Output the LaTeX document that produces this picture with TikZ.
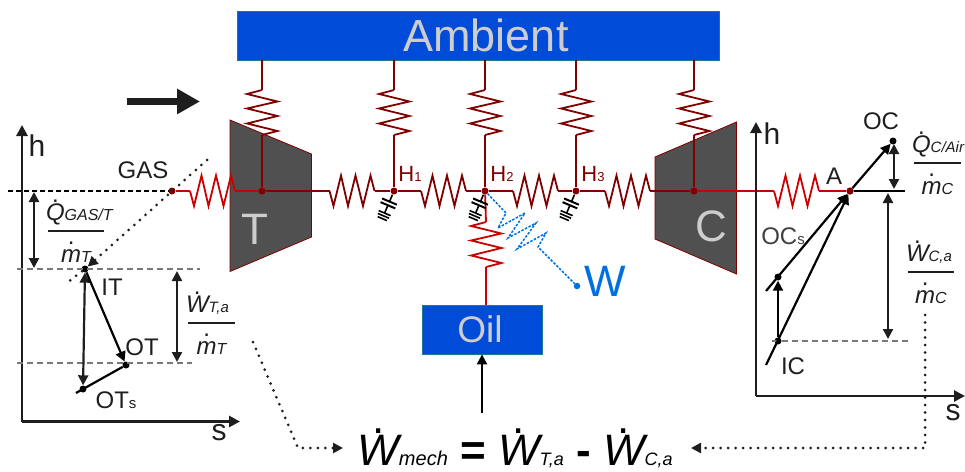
\documentclass[tikz,border=0pt]{standalone}
\usepackage{amsmath}
\usepackage{fontspec}
\setmainfont{Liberation Sans}
\usepackage{tikz}
\usetikzlibrary{arrows.meta,positioning,calc}
\definecolor{wiredark}{RGB}{128,0,0}
\definecolor{wirehot}{RGB}{204,0,0}
\definecolor{boxblue}{RGB}{0,76,217}
\definecolor{boxedge}{RGB}{30,120,140}
\definecolor{softlabel}{RGB}{205,205,205}
\definecolor{machine}{RGB}{80,80,80}
\definecolor{leakblue}{RGB}{0,112,224}
\definecolor{inkblack}{RGB}{30,30,30}
\definecolor{guide}{RGB}{120,120,120}
\newcommand{\fs}[2]{{\fontsize{#1}{#1}\selectfont #2}}
\newcommand{\fdot}[1]{{\ooalign{#1\cr\hidewidth\raisebox{.72em}{\upshape.}\hidewidth\cr}}}
\newcommand{\hfrac}[3]{$\genfrac{}{}{1.8pt}{0}{\hbox to #1{\hskip -2pt #2\hss}}{\hbox{\rule{0pt}{25pt}#3}}$}
\tikzset{
  res/.pic={
    \draw[#1] (-22.5,0) -- (-18.5,15) -- (-11,-15.5) -- (-4,15) -- (3.5,-15.5) -- (11,15) -- (18.5,-15.5) -- (22.5,0);
    \coordinate (-in) at (-22.5,0);
    \coordinate (-out) at (22.5,0);
  },
  capgnd/.pic={
    \draw[black,line width=1.6pt] (4,0) -- (11.5,0) (15.5,0) -- (24,0);
    \draw[black,line width=2pt] (11.5,-8) -- (11.5,8) (15.5,-8) -- (15.5,8);
    \draw[black,line width=1.6pt] (24,-6.5) -- (24,6.5) (27,-6) -- (27,6) (30,-5) -- (30,5);
  }
}
\begin{document}
\begin{tikzpicture}[
  x=1pt, y=-1pt,
  wdark/.style={draw=wiredark, line width=1.8pt},
  whot/.style={draw=wirehot, line width=1.8pt},
  wleak/.style={draw=leakblue, line width=1.5pt, dash pattern=on 2.5pt off 1.5pt},
  bluebox/.style={draw=boxedge, line width=0.8pt, fill=boxblue, text=softlabel, inner sep=0pt},
  machinebody/.style={draw=wiredark, line width=0.8pt, fill=machine},
  joint/.style={circle, fill=wiredark, inner sep=0pt, minimum size=7pt},
  point/.style={circle, fill=black, inner sep=0pt, minimum size=7pt},
  lab/.style={inner sep=0pt, text=inkblack, font=\fontsize{24}{24}\selectfont},
  fraclab/.style={anchor=base, inner sep=0pt, text=inkblack, font=\fontsize{24}{24}\selectfont\itshape},
  axis/.style={line width=2.8pt, draw=inkblack, -{Triangle[length=11pt,width=11pt]}},
  arr/.style={line width=2.2pt, draw=black, -{Triangle[length=10pt,width=10pt]}},
  darr/.style={line width=2.2pt, draw=inkblack, {Triangle[length=10pt,width=10pt]}-{Triangle[length=10pt,width=10pt]}},
  plain/.style={line width=2.2pt, draw=black},
  dashline/.style={line width=1.8pt, draw=black, dash pattern=on 5pt off 3pt},
  guideline/.style={line width=1.8pt, draw=guide, dash pattern=on 6pt off 4pt},
  dots/.style={line width=3pt, draw=inkblack, line cap=round, dash pattern=on 0pt off 7.5pt},
  dotsarr/.style={dots, -{Triangle[length=10pt,width=10pt]}}
]
\useasboundingbox (0,0) rectangle (965,471);

\node[bluebox, minimum width=482pt, minimum height=49pt, font=\fontsize{45}{45}\selectfont] (ambient) at (478,35.5) {\hspace*{16pt}Ambient};
\node[bluebox, minimum width=120pt, minimum height=49pt, font=\fontsize{37}{37}\selectfont] (oil) at (482,329.5) {Oil\hspace*{4pt}};

\draw[machinebody] (230,120) -- (311.5,154) -- (311.5,237) -- (230,271.5) -- cycle;
\draw[machinebody] (655,157) -- (736.5,122) -- (736.5,274) -- (655,239) -- cycle;
\node[text=softlabel, inner sep=0pt, font=\fontsize{44}{44}\selectfont] (tlabel) at (255,229) {T};
\node[text=softlabel, inner sep=0pt, font=\fontsize{44}{44}\selectfont] (clabel) at (711,226) {C};

\coordinate (flowa) at (127,101.5);
\coordinate (flowb) at (200,101.5);
\draw[line width=6.5pt, draw=inkblack, -{Triangle[length=23pt,width=24pt]}] (flowa) -- (flowb);

\node[joint] (gas) at (172,191) {};
\node[joint] (tj) at (262,191) {};
\node[joint] (h1) at (394,191) {};
\node[joint] (h2) at (485,191) {};
\node[joint] (h3) at (576,191) {};
\node[joint] (cj) at (694,191) {};
\node[joint] (aj) at (850,191) {};

\pic (rgas) at (212.5,191) {res=whot};
\pic (rtm) at (352,191) {res=wdark};
\pic (r12) at (443.5,191) {res=wdark};
\pic (r23) at (535.5,191) {res=wdark};
\pic (r3c) at (627.5,191) {res=wdark};
\pic (rca) at (796.5,191) {res=whot};
\pic[rotate=-90] (rt) at (262,112.5) {res=wdark};
\pic[rotate=-90] (r1) at (394,112.5) {res=wdark};
\pic[rotate=-90] (r2) at (485,112.5) {res=wdark};
\pic[rotate=-90] (r3) at (576,112.5) {res=wdark};
\pic[rotate=-90] (rc) at (694,112.5) {res=wdark};
\pic[rotate=-90] (roil) at (486,244.5) {res=whot};
\coordinate (oiltop) at (486,305);

\draw[whot] (gas) -- (rgas-in);
\draw[whot] (rgas-out) -- (tj);
\draw[wdark] (tj) -- (rtm-in);
\draw[wdark] (rtm-out) -- (h1);
\draw[wdark] (h1) -- (r12-in);
\draw[wdark] (r12-out) -- (h2);
\draw[wdark] (h2) -- (r23-in);
\draw[wdark] (r23-out) -- (h3);
\draw[wdark] (h3) -- (r3c-in);
\draw[wdark] (r3c-out) -- (cj);
\draw[whot] (cj) -- (rca-in);
\draw[whot] (rca-out) -- (aj);
\draw[wdark] (tj |- ambient.south) -- (rt-in);
\draw[wdark] (rt-out) -- (tj);
\draw[wdark] (h1 |- ambient.south) -- (r1-in);
\draw[wdark] (r1-out) -- (h1);
\draw[wdark] (h2 |- ambient.south) -- (r2-in);
\draw[wdark] (r2-out) -- (h2);
\draw[wdark] (h3 |- ambient.south) -- (r3-in);
\draw[wdark] (r3-out) -- (h3);
\draw[wdark] (cj |- ambient.south) -- (rc-in);
\draw[wdark] (rc-out) -- (cj);
\draw[whot] (h2) -- (roil-in);
\draw[whot, line width=2pt] (roil-out) -- (oiltop);

\pic[rotate=-113] at (394,191) {capgnd};
\pic[rotate=-113] at (485,191) {capgnd};
\pic[rotate=-113] at (576,191) {capgnd};

\node[circle, fill=leakblue, inner sep=0pt, minimum size=6.5pt] (wdot) at (577,286) {};
\node[inner sep=0pt, text=leakblue, font=\fontsize{44}{44}\selectfont] (wlabel) at (605,281) {W};
\draw[wleak] (h2) -- (506,213) -- (498,228) -- (525,213) -- (508,238) -- (536,223) -- (517,249) -- (546,233) -- (538,247) -- (wdot);

\node[text=wiredark, inner sep=0pt, font=\fontsize{22}{22}\selectfont] (h1label) at (410,174) {H\fs{13}{1}};
\node[text=wiredark, inner sep=0pt, font=\fontsize{22}{22}\selectfont] (h2label) at (502,174) {H\fs{13}{2}};
\node[text=wiredark, inner sep=0pt, font=\fontsize{22}{22}\selectfont] (h3label) at (593,174) {H\fs{13}{3}};

% left chart
\coordinate (lo) at (22,421.5);
\coordinate (lh) at (22,125);
\coordinate (ls) at (240,421.5);
\draw[axis] (lo) -- (lh);
\draw[axis] (lo) -- (ls);
\node[lab, font=\fontsize{30}{30}\selectfont] (lhlabel) at (37,146) {h};
\node[lab, font=\fontsize{30}{30}\selectfont] (lslabel) at (219,433) {s};
\node[point] (it) at (85,269) {};
\node[point] (ot) at (126,365) {};
\node[point] (ots) at (83,389) {};
\coordinate (lga) at (8,191);
\coordinate (lgb) at (17,269);
\coordinate (lgc) at (200,269);
\coordinate (lgd) at (17,363);
\coordinate (lge) at (192,363);
\coordinate (ldta) at (207,160);
\coordinate (ldtb) at (68,282);
\coordinate (lotx) at (76,393);
\draw[dashline] (lga) -- (gas);
\draw[guideline] (lgb) -- (lgc);
\draw[guideline] (lgd) -- (lge);
\draw[dotsarr] (ldta) -- (it);
\draw[dots] (it) -- (ldtb);
\draw[plain] (lotx) -- (ot);
\draw[darr] (ots) -- (it);
\draw[arr] (it) -- (ot);
\draw[darr] (34,192) -- (34,268);
\draw[darr] (177,271) -- (177,362);
\node[lab] (gaslabel) at (143,170) {GAS};
\node[lab] (itlabel) at (112,287) {IT};
\node[lab] (otlabel) at (142,347) {OT};
\node[lab] (otslabel) at (116,400) {OT\fs{15}{s}};
\node[fraclab] (qgas) at (76,237) {\hfrac{56pt}{\fdot{Q}\fs{16}{GAS/T}}{\fdot{m}\fs{16}{T}}};
\node[fraclab] (wta) at (211.5,329) {\hfrac{47pt}{\fdot{W}\fs{15}{T,a}}{\fdot{m}\fs{16}{T}}};

% right chart
\coordinate (ro) at (756,396);
\coordinate (rh) at (756,122);
\coordinate (rs) at (965,396);
\draw[axis] (ro) -- (rh);
\draw[axis] (ro) -- (rs);
\node[lab, font=\fontsize{30}{30}\selectfont] (rhlabel) at (772,134) {h};
\node[lab, font=\fontsize{30}{30}\selectfont] (rslabel) at (953,413) {s};
\node[point] (oc) at (893,141) {};
\node[point] (ocs) at (778,277) {};
\node[point] (ic) at (778,341) {};
\coordinate (raend) at (905,191);
\coordinate (rocx) at (766,291);
\coordinate (ricx) at (766,365);
\coordinate (rga) at (772,341);
\coordinate (rgb) at (908,341);
\draw[plain] (aj) -- (raend);
\draw[guideline] (rga) -- (rgb);
\draw[arr] (rocx) -- (aj);
\draw[arr] (aj) -- (oc);
\draw[arr] (ricx) -- (aj);
\draw[arr] (ic) -- (ocs);
\node[joint] at (aj) {};
\draw[darr] (894,144) -- (894,189);
\draw[darr] (888,193) -- (888,339);
\node[lab] (oclabel) at (881,121) {OC};
\node[lab] (alabel) at (834,176) {A};
\node[lab, text=black!75] (ocslabel) at (783,236) {OC\fs{15}{s}};
\node[lab] (iclabel) at (793,366) {IC};
\node[fraclab] (qca) at (937.5,169) {\hfrac{47pt}{\fdot{Q}\fs{15}{C/Air}}{\fdot{m}\fs{16}{C}}};
\node[fraclab] (wca) at (931,278) {\hfrac{46pt}{\fdot{W}\fs{15}{C,a}}{\fdot{m}\fs{16}{C}}};

% power balance
\node[anchor=base, inner sep=0pt, text=black, font=\fontsize{44}{44}\selectfont\itshape] (wmech) at (515,465) {\fdot{W}\fs{20}{mech} {\upshape\bfseries =} \fdot{W}\fs{18}{T,a} {\upshape\bfseries -} \fdot{W}\fs{18}{C,a}};
\coordinate (mechtop) at (482,413);
\coordinate (mechl) at (343,448);
\coordinate (mechr) at (691,448);
\coordinate (ldota) at (253,342);
\coordinate (ldotb) at (298,448);
\coordinate (rdota) at (925,315);
\coordinate (rdotb) at (925,448);
\draw[arr] (mechtop) -- (oil);
\draw[dotsarr] (ldota) -- (ldotb) -- (mechl);
\draw[dotsarr] (rdota) -- (rdotb) -- (mechr);
\end{tikzpicture}
\end{document}
